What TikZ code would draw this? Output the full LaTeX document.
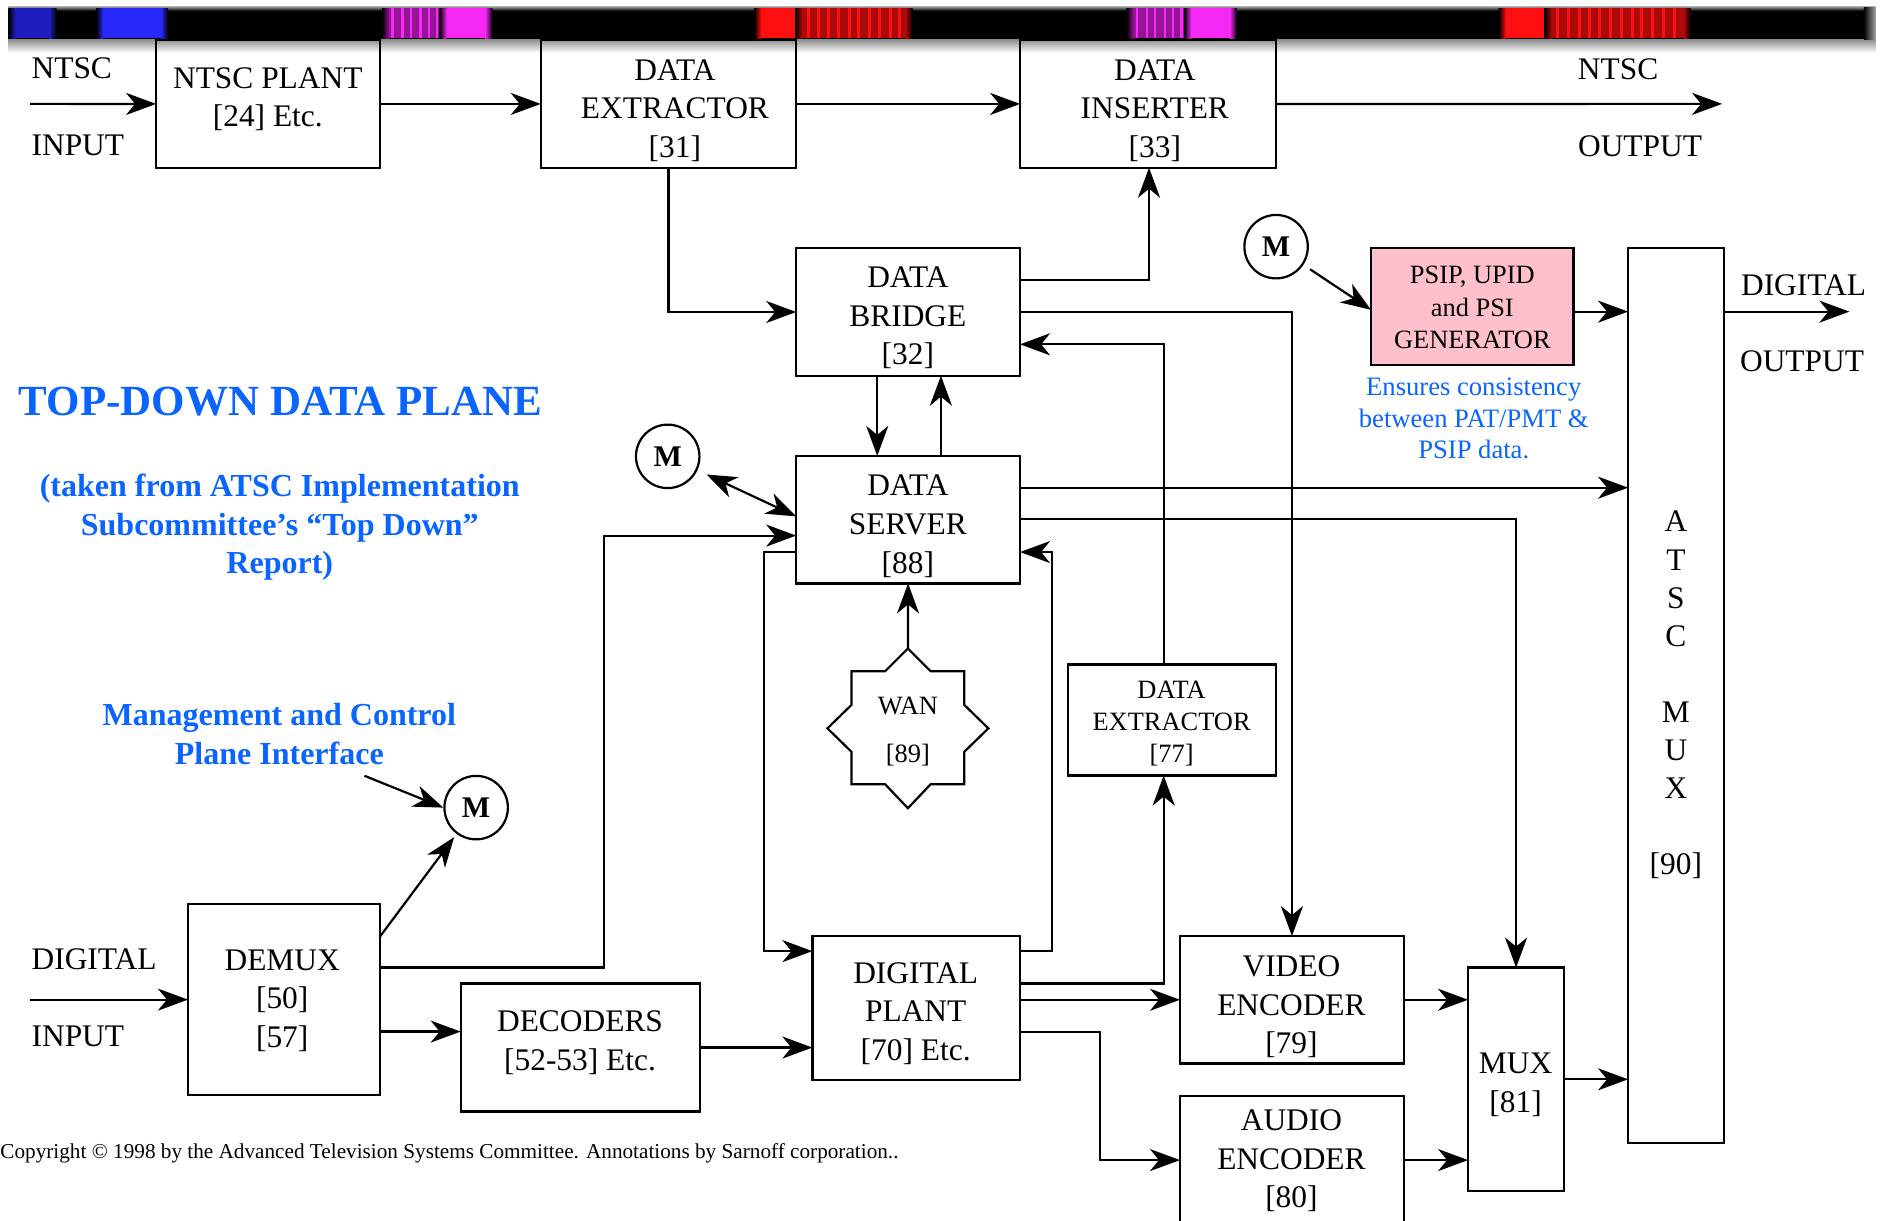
\documentclass[tikz,border=0pt]{standalone}
\usepackage{fontspec}
\setmainfont{Liberation Serif}
\usetikzlibrary{arrows.meta,calc}
\definecolor{ablue}{RGB}{10,100,255}
\definecolor{psipfill}{RGB}{255,192,203}
\definecolor{bandblue}{RGB}{40,40,250}
\definecolor{bandblueb}{RGB}{30,30,190}
\definecolor{bandmag}{RGB}{245,40,245}
\definecolor{bandmagd}{RGB}{150,20,150}
\definecolor{bandred}{RGB}{255,15,15}
\definecolor{bandredd}{RGB}{170,10,10}
\newcommand\mkbox[6][]{\node[box,minimum width={(#5-#3)*0.6pt},minimum height={(#6-#4)*0.6pt},#1] (#2) at ({(#3+#5)/2},{(#4+#6)/2}) {};}
\newcommand\cblock[3]{%
  \shade[left color=black, right color=#3] (#1,7) rectangle ({#1+6},32);
  \fill[#3] ({#1+6},7) rectangle ({#2-6},32);
  \shade[left color=#3, right color=black] ({#2-6},7) rectangle (#2,32);}
\begin{document}
\begin{tikzpicture}[x=0.6pt,y=-0.6pt,
  box/.style={draw, line width=1.1pt, inner sep=0pt, outer sep=0pt},
  txt/.style={align=center, inner sep=0pt, font=\fontsize{15.7}{19.3}\selectfont},
  stxt/.style={align=center, inner sep=0pt, font=\fontsize{13.2}{16}\selectfont},
  lbl/.style={inner sep=0pt, font=\fontsize{15.7}{19.3}\selectfont},
  btxt/.style={align=center, inner sep=0pt, text=ablue, font=\fontsize{16}{19.3}\bfseries\selectfont},
  conn/.style={line width=1.1pt},
  arr/.style={conn, -{Stealth[length=15pt,width=11pt,inset=4.5pt]}},
  darr/.style={conn, {Stealth[length=15pt,width=11pt,inset=4.5pt]}-{Stealth[length=15pt,width=11pt,inset=4.5pt]}},
  mcirc/.style={draw, circle, line width=1.1pt, minimum size=31.7pt, inner sep=0pt, font=\fontsize{15}{15}\bfseries\selectfont}]
\useasboundingbox (0,0) rectangle (1568,1016);
\clip (0,0) rectangle (1568,1016);

% ---------- banner ----------
\shade[top color=gray!95, bottom color=white] (7,32) rectangle (1562,44);
\fill[black] (7,6) rectangle (1562,32.5);
\shade[top color=gray!60, bottom color=black] (7,5) rectangle (1562,9);
\shade[left color=black, right color=gray!70] (1552,6) rectangle (1562,32.5);
\cblock{7}{47}{bandblueb}
\cblock{80}{140}{bandblue}
\cblock{318}{372}{bandmagd}
\cblock{366}{410}{bandmag}
\cblock{628}{668}{bandred}
\cblock{662}{760}{bandredd}
\cblock{938}{992}{bandmagd}
\cblock{986}{1030}{bandmag}
\cblock{1248}{1292}{bandred}
\cblock{1286}{1408}{bandredd}
\foreach \s in {326,334,341,349,356,363,946,954,961,969,976,983}
  \fill[bandmag] (\s,7) rectangle ({\s+2},32);
\foreach \s in {672,680,689,697,706,714,723,731,740,748,1296,1305,1314,1322,1331,1340,1349,1358,1366,1375,1384,1393}
  \fill[bandred] (\s,7) rectangle ({\s+2.5},32);

% ---------- boxes ----------
\mkbox{ntscplant}{130}{33.5}{316.5}{139.6}
\mkbox{dext31}{450.3}{33.5}{662.8}{139.6}
\mkbox{dins33}{849.5}{33.5}{1062.5}{139.6}
\mkbox{dbridge}{663}{206.8}{849.4}{312.8}
\mkbox{dserver}{663}{379.7}{849.4}{485.8}
\mkbox[fill=psipfill]{psip}{1141.7}{206.2}{1310.3}{303.7}
\mkbox{atsc}{1355.7}{206.6}{1435.4}{951.8}
\mkbox{dext77}{889.6}{553.4}{1062.4}{645.8}
\mkbox{dplant}{676.5}{779.5}{849.3}{899}
\mkbox{venc}{982.6}{779.5}{1169}{885.5}
\mkbox{aenc}{982.6}{912.6}{1169}{1019.4}
\mkbox{mux81}{1222.5}{805.7}{1302.4}{991.8}
\mkbox{demux}{156.5}{752.8}{316.7}{912}
\mkbox{decoders}{383.6}{819}{583}{925.6}

% WAN star
\draw[conn] (756,540) -- (775,559) -- (803,559) -- (803,587) -- (823,606.5) -- (803,626) -- (803,653) -- (775,653) -- (756,673) -- (737,653) -- (709,653) -- (709,626) -- (689,606.5) -- (709,587) -- (709,559) -- (737,559) -- cycle;
\coordinate (wantop) at (756,540);

% ---------- box texts ----------
\node[txt] (t-ntscplant) at (223,82.6) {NTSC PLANT\\{[24]} Etc.};
\node[txt] (t-dext31) at (562,92.2) {DATA\\EXTRACTOR\\{[31]}};
\node[txt] (t-dins33) at (961.6,92.2) {DATA\\INSERTER\\{[33]}};
\node[txt] (t-dbridge) at (756,264.7) {DATA\\BRIDGE\\{[32]}};
\node[txt] (t-dserver) at (756,438.2) {DATA\\SERVER\\{[88]}};
\node[txt] (t-dplant) at (762.5,843.9) {DIGITAL\\PLANT\\{[70]} Etc.};
\node[txt] (t-venc) at (1075.4,838.4) {VIDEO\\ENCODER\\{[79]}};
\node[txt] (t-aenc) at (1075.4,966.7) {AUDIO\\ENCODER\\{[80]}};
\node[txt] (t-mux81) at (1262,903.2) {MUX\\{[81]}};
\node[txt] (t-demux) at (235,833.2) {DEMUX\\{[50]}\\{[57]}};
\node[txt] (t-decoders) at (483,868.4) {DECODERS\\{[52-53]} Etc.};
\node[txt, font=\fontsize{15.7}{19}\selectfont] (t-atsc) at (1395.5,578.6) {A\\T\\S\\C\\\mbox{}\\M\\U\\X\\\mbox{}\\{[90]}};
\node[stxt] (t-dext77) at (975.6,602.8) {DATA\\EXTRACTOR\\{[77]}};
\node[stxt, font=\fontsize{13.2}{24.3}\selectfont] (wan) at (756,609.2) {WAN\\{[89]}};
\node[stxt, font=\fontsize{13.2}{16.2}\selectfont] (t-psip) at (1226,256) {PSIP, UPID\\and PSI\\GENERATOR};

% ---------- labels ----------
\node[lbl, anchor=west] (lntsc1) at (26,57) {NTSC};
\node[lbl, anchor=west] (linput1) at (26,121) {INPUT};
\node[lbl] (lntsc2) at (1347.4,57.7) {NTSC};
\node[lbl] (loutput1) at (1365.7,122) {OUTPUT};
\node[lbl] (ldig1) at (1501.8,237.3) {DIGITAL};
\node[lbl] (loutput2) at (1500.6,301.2) {OUTPUT};
\node[lbl, anchor=west] (ldig2) at (26,798.6) {DIGITAL};
\node[lbl, anchor=west] (linput2) at (26,863) {INPUT};

% ---------- blue annotations ----------
\node[btxt, font=\fontsize{21.5}{24}\bfseries\selectfont] (title) at (233.5,334) {TOP-DOWN DATA PLANE};
\node[btxt] (subt) at (233,439) {(taken from ATSC Implementation\\Subcommittee’s “Top Down”\\Report)};
\node[btxt] (mgmt) at (232.6,611.4) {Management and Control\\Plane Interface};
\node[align=center, inner sep=0pt, text=ablue, font=\fontsize{13.3}{15.7}\selectfont] (ensure) at (1227.2,348.6) {Ensures consistency\\between PAT/PMT \&\\PSIP data.};
\node[anchor=west, inner sep=0pt, font=\fontsize{10.6}{12}\selectfont] (copy) at (0,960) {Copyright © 1998 by the Advanced Television Systems Committee. Annotations by Sarnoff corporation..};

% ---------- M circles ----------
\node[mcirc] (m1) at (556,380) {M};
\node[mcirc] (m2) at (1062.6,205.4) {M};
\node[mcirc] (m3) at (396.5,672.5) {M};

% ---------- free ends ----------
\coordinate (ntscin) at (25,86.5);
\coordinate (ntscout) at (1434,86.5);
\coordinate (digin) at (25,832.4);
\coordinate (digout) at (1540,259.5);
\coordinate (mgmtstart) at (303.5,646);

% ---------- connectors ----------
\draw[arr] (ntscin) -- (ntscplant.west);
\draw[arr] (ntscplant.east) -- (dext31.west);
\draw[arr] (dext31.east) -- (dins33.west);
\draw[arr] (dins33.east) -- (ntscout);
\draw[arr] (dext31.south -| 556.6,0) |- (dbridge.west);
\draw[arr] (dbridge.east |- 0,233) -| (dins33.south -| 956.8,0);
\draw[arr] (dbridge.east |- 0,259.5) -| (venc.north);
\draw[arr] (dext77.north -| 969,0) |- (dbridge.east |- 0,286.7);
\draw[arr] (dbridge.south -| 730.5,0) -- (dserver.north -| 730.5,0);
\draw[arr] (dserver.north -| 783.5,0) -- (dbridge.south -| 783.5,0);
\draw[darr, shorten <=5pt] (m1) -- (dserver.west |- 0,430);
\draw[arr] (dserver.east |- 0,406.1) -- (atsc.west |- 0,406.1);
\draw[arr] (dserver.east |- 0,432.5) -| (mux81.north);
\draw[arr] (dplant.east |- 0,792) -- ++(26.5,0) |- (dserver.east |- 0,459.7);
\draw[arr] (demux.east |- 0,805.6) -- ++(186.3,0) |- (dserver.west |- 0,446);
\draw[arr] (dserver.west |- 0,459.7) -- ++(-27,0) |- (dplant.west |- 0,792);
\draw[arr] (wantop) -- (dserver.south);
\draw[arr] (dplant.east |- 0,819) -| (dext77.south -| 969,0);
\draw[arr] (dplant.east |- 0,832.5) -- (venc.west);
\draw[arr] (dplant.east |- 0,859.6) -- ++(66.5,0) |- (aenc.west);
\draw[arr] (venc.east) -- (mux81.west |- venc.east);
\draw[arr] (aenc.east) -- (mux81.west |- aenc.east);
\draw[arr] (mux81.east) -- (atsc.west |- mux81.east);
\draw[arr] (psip.east |- 0,259.5) -- (atsc.west |- 0,259.5);
\draw[arr] (atsc.east |- 0,259.5) -- (digout);
\draw[arr, shorten <=4pt] (m2) -- (psip.west |- 0,258);
\draw[arr] (mgmtstart) -- (m3.west);
\draw[arr, shorten >=2pt] (demux.east |- 0,779.5) -- (m3);
\draw[arr] (digin) -- (demux.west);
\draw[arr] (demux.east |- 0,859) -- (decoders.west |- 0,859);
\draw[arr] (decoders.east) -- (dplant.west |- decoders.east);
\end{tikzpicture}
\end{document}
